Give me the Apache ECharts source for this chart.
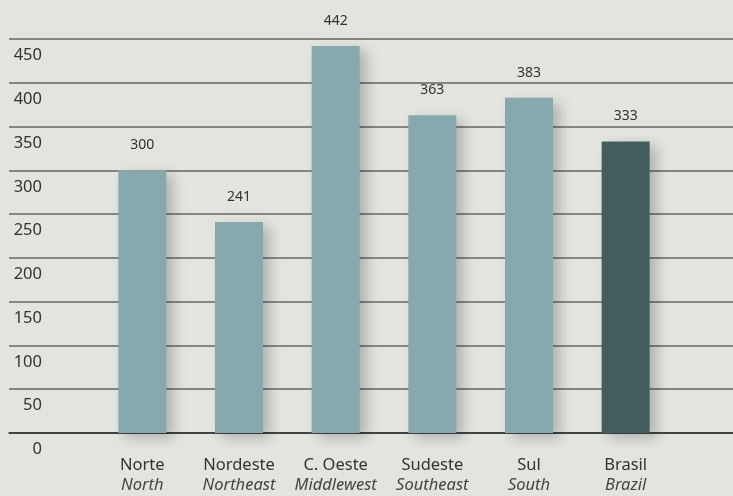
<!DOCTYPE html>
<html>
<head>
<meta charset="utf-8">
<script src="https://cdn.jsdelivr.net/npm/echarts@6/dist/echarts.min.js"></script>
<style>
  html, body { margin: 0; padding: 0; background: #e2e4de; }
  #chart { width: 733px; height: 496px; }
</style>
</head>
<body>
<div id="chart"></div>
<script>
// regiões (português / inglês)
const regions_pt = ['Norte', 'Nordeste', 'C. Oeste', 'Sudeste', 'Sul', 'Brasil']
const regions_en = ['North', 'Northeast', 'Middlewest', 'Southeast', 'South', 'Brazil']
const values = [300, 241, 442, 363, 383, 333]
const y_max = 450
const y_step = 50

const light = '#87a9ad'
const dark = '#445d5e'

let myChart = echarts.init(document.getElementById('chart'))

myChart.setOption({
  backgroundColor: '#e2e4de',
  animation: false,
  textStyle: { fontFamily: 'Noto Sans' },
  grid: [
    // linhas de grade, largura total
    { left: 9, right: 0, top: 39, bottom: 63 },
    // barras
    { left: 94, right: 59, top: 39, bottom: 63 }
  ],
  xAxis: [
    {
      gridIndex: 0,
      type: 'category',
      data: [''],
      axisLine: { show: true, lineStyle: { color: '#2e2e2e', width: 1.5 } },
      axisTick: { show: false },
      axisLabel: { show: false }
    },
    {
      gridIndex: 1,
      type: 'category',
      data: regions_pt,
      axisLine: { show: false },
      axisTick: { show: false },
      axisLabel: {
        margin: 22,
        interval: 0,
        formatter: (v, i) => '{a|' + v + '}\n{b|' + regions_en[i] + '}',
        rich: {
          a: { fontSize: 16.5, color: '#333', lineHeight: 20, fontFamily: 'Noto Sans' },
          b: { fontSize: 16.5, color: '#444', lineHeight: 20, fontStyle: 'italic', fontFamily: 'Noto Sans' }
        }
      }
    }
  ],
  yAxis: [
    {
      gridIndex: 0,
      type: 'value',
      min: 0,
      max: y_max,
      interval: y_step,
      axisLine: { show: false },
      axisTick: { show: false },
      splitLine: { show: true, lineStyle: { color: '#666', width: 1.5 } },
      axisLabel: {
        inside: true,
        margin: 33,
        align: 'right',
        verticalAlign: 'top',
        padding: [8, 0, 0, 0],
        fontSize: 16.5,
        color: '#333'
      }
    },
    {
      gridIndex: 1,
      type: 'value',
      min: 0,
      max: y_max,
      interval: y_step,
      show: false
    }
  ],
  series: [
    {
      type: 'bar',
      xAxisIndex: 1,
      yAxisIndex: 1,
      barWidth: 48,
      data: values.map((v, i) => ({
        value: v,
        itemStyle: { color: i === values.length - 1 ? dark : light }
      })),
      itemStyle: {
        shadowBlur: 12,
        shadowOffsetX: 7,
        shadowOffsetY: 5,
        shadowColor: 'rgba(0, 0, 0, 0.22)'
      },
      label: {
        show: true,
        position: 'top',
        distance: 18,
        fontSize: 14,
        color: '#333'
      }
    }
  ]
})
</script>
</body>
</html>
